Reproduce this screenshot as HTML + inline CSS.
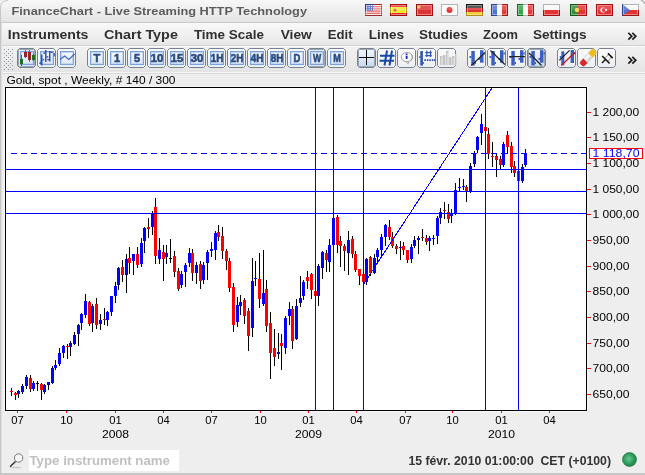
<!DOCTYPE html>
<html><head><meta charset="utf-8"><title>FinanceChart</title>
<style>html,body{margin:0;padding:0;width:645px;height:475px;overflow:hidden;background:#eeeeee;} svg{display:block;will-change:transform;}</style>
</head><body><svg width="645" height="475" viewBox="0 0 645 475" font-family='"Liberation Sans", sans-serif'><defs>
<linearGradient id="gTitle" x1="0" y1="0" x2="0" y2="1"><stop offset="0" stop-color="#f7f7f7"/><stop offset="1" stop-color="#e3e3e3"/></linearGradient>
<linearGradient id="gMenu" x1="0" y1="0" x2="0" y2="1"><stop offset="0" stop-color="#f9f9f9"/><stop offset="1" stop-color="#e6e6e6"/></linearGradient>
<linearGradient id="gTool" x1="0" y1="0" x2="0" y2="1"><stop offset="0" stop-color="#f2f2f2"/><stop offset="1" stop-color="#e4e4e4"/></linearGradient>
<linearGradient id="gBtn" x1="0" y1="0" x2="0" y2="1"><stop offset="0" stop-color="#fbfbfc"/><stop offset="1" stop-color="#eceef2"/></linearGradient>
<linearGradient id="gBtnIn" x1="0" y1="0" x2="0" y2="1"><stop offset="0" stop-color="#f8fbff"/><stop offset="1" stop-color="#dbe6f6"/></linearGradient>
<linearGradient id="gBtnP" x1="0" y1="0" x2="0" y2="1"><stop offset="0" stop-color="#eef1f6"/><stop offset="1" stop-color="#dde3ec"/></linearGradient>
<linearGradient id="gBtnX" x1="0" y1="0" x2="0" y2="1"><stop offset="0" stop-color="#f0f5fb"/><stop offset="0.5" stop-color="#dfe9f5"/><stop offset="1" stop-color="#c3d6ee"/></linearGradient>
<radialGradient id="gGreen" cx="0.45" cy="0.45" r="0.6"><stop offset="0" stop-color="#6cc892"/><stop offset="0.6" stop-color="#2c9c5c"/><stop offset="1" stop-color="#1d7a42"/></radialGradient>
</defs>
<rect x="0" y="0" width="645" height="475" fill="#eeeeee"/>
<path d="M0,6 Q0,0 6,0 H639 Q645,0 645,6 V23 H0 Z" fill="url(#gTitle)"/>
<rect x="0" y="22" width="645" height="1" fill="#c9c9c9"/>
<text x="11.5" y="15" font-size="11.5" font-weight="bold" fill="#5c5c5c" text-anchor="start" textLength="295.5" lengthAdjust="spacingAndGlyphs" >FinanceChart - Live Streaming HTTP Technology</text>
<rect x="365" y="4" width="17" height="12" fill="#ffffff"/><rect x="365" y="4.00" width="17" height="0.92" fill="#d82828"/><rect x="365" y="5.85" width="17" height="0.92" fill="#d82828"/><rect x="365" y="7.69" width="17" height="0.92" fill="#d82828"/><rect x="365" y="9.54" width="17" height="0.92" fill="#d82828"/><rect x="365" y="11.38" width="17" height="0.92" fill="#d82828"/><rect x="365" y="13.23" width="17" height="0.92" fill="#d82828"/><rect x="365" y="15.08" width="17" height="0.92" fill="#d82828"/><rect x="365" y="4" width="8" height="6.5" fill="#3a4cb8"/><rect x="366.2" y="5.0" width="1" height="1" fill="#fff"/><rect x="368.6" y="5.0" width="1" height="1" fill="#fff"/><rect x="371.0" y="5.0" width="1" height="1" fill="#fff"/><rect x="366.2" y="6.9" width="1" height="1" fill="#fff"/><rect x="368.6" y="6.9" width="1" height="1" fill="#fff"/><rect x="371.0" y="6.9" width="1" height="1" fill="#fff"/><rect x="366.2" y="8.8" width="1" height="1" fill="#fff"/><rect x="368.6" y="8.8" width="1" height="1" fill="#fff"/><rect x="371.0" y="8.8" width="1" height="1" fill="#fff"/><rect x="365.5" y="4.5" width="16" height="11" fill="none" stroke="rgba(0,0,0,0.28)" stroke-width="1"/><rect x="366" y="5" width="15" height="10" fill="rgba(255,255,255,0.12)"/><rect x="366.5" y="5.5" width="14" height="9" fill="none" stroke="rgba(255,255,255,0.4)" stroke-width="1"/><rect x="367" y="6" width="13" height="4.0" fill="rgba(255,255,255,0.15)"/>
<rect x="390" y="4" width="17" height="12" fill="#e41010"/><rect x="390" y="7" width="17" height="6" fill="#f6e41a"/><circle cx="395" cy="10" r="1.6" fill="#d05050"/><rect x="390.5" y="4.5" width="16" height="11" fill="none" stroke="rgba(0,0,0,0.28)" stroke-width="1"/><rect x="391" y="5" width="15" height="10" fill="rgba(255,255,255,0.12)"/><rect x="391.5" y="5.5" width="14" height="9" fill="none" stroke="rgba(255,255,255,0.4)" stroke-width="1"/><rect x="392" y="6" width="13" height="4.0" fill="rgba(255,255,255,0.15)"/>
<rect x="416" y="4" width="17" height="12" fill="#d81a1a"/><circle cx="419" cy="7" r="1.5" fill="#f4d030"/><rect x="416.5" y="4.5" width="16" height="11" fill="none" stroke="rgba(0,0,0,0.28)" stroke-width="1"/><rect x="417" y="5" width="15" height="10" fill="rgba(255,255,255,0.12)"/><rect x="417.5" y="5.5" width="14" height="9" fill="none" stroke="rgba(255,255,255,0.4)" stroke-width="1"/><rect x="418" y="6" width="13" height="4.0" fill="rgba(255,255,255,0.15)"/>
<rect x="441" y="4" width="17" height="12" fill="#fafafa"/><circle cx="449.5" cy="10" r="3" fill="#e01818"/><rect x="441.5" y="4.5" width="16" height="11" fill="none" stroke="rgba(0,0,0,0.28)" stroke-width="1"/><rect x="442" y="5" width="15" height="10" fill="rgba(255,255,255,0.12)"/><rect x="442.5" y="5.5" width="14" height="9" fill="none" stroke="rgba(255,255,255,0.4)" stroke-width="1"/><rect x="443" y="6" width="13" height="4.0" fill="rgba(255,255,255,0.15)"/>
<rect x="466" y="4" width="17" height="4" fill="#202020"/><rect x="466" y="8" width="17" height="4" fill="#d81818"/><rect x="466" y="12" width="17" height="4" fill="#f0c818"/><rect x="466.5" y="4.5" width="16" height="11" fill="none" stroke="rgba(0,0,0,0.28)" stroke-width="1"/><rect x="467" y="5" width="15" height="10" fill="rgba(255,255,255,0.12)"/><rect x="467.5" y="5.5" width="14" height="9" fill="none" stroke="rgba(255,255,255,0.4)" stroke-width="1"/><rect x="468" y="6" width="13" height="4.0" fill="rgba(255,255,255,0.15)"/>
<rect x="491" y="4" width="6" height="12" fill="#4060c8"/><rect x="497" y="4" width="5" height="12" fill="#f8f8f8"/><rect x="502" y="4" width="6" height="12" fill="#e02020"/><rect x="491.5" y="4.5" width="16" height="11" fill="none" stroke="rgba(0,0,0,0.28)" stroke-width="1"/><rect x="492" y="5" width="15" height="10" fill="rgba(255,255,255,0.12)"/><rect x="492.5" y="5.5" width="14" height="9" fill="none" stroke="rgba(255,255,255,0.4)" stroke-width="1"/><rect x="493" y="6" width="13" height="4.0" fill="rgba(255,255,255,0.15)"/>
<rect x="517" y="4" width="6" height="12" fill="#1a9a30"/><rect x="523" y="4" width="5" height="12" fill="#f8f8f8"/><rect x="528" y="4" width="6" height="12" fill="#e02020"/><rect x="517.5" y="4.5" width="16" height="11" fill="none" stroke="rgba(0,0,0,0.28)" stroke-width="1"/><rect x="518" y="5" width="15" height="10" fill="rgba(255,255,255,0.12)"/><rect x="518.5" y="5.5" width="14" height="9" fill="none" stroke="rgba(255,255,255,0.4)" stroke-width="1"/><rect x="519" y="6" width="13" height="4.0" fill="rgba(255,255,255,0.15)"/>
<rect x="543" y="4" width="17" height="6" fill="#f8f8f8"/><rect x="543" y="10" width="17" height="6" fill="#e01818"/><rect x="543.5" y="4.5" width="16" height="11" fill="none" stroke="rgba(0,0,0,0.28)" stroke-width="1"/><rect x="544" y="5" width="15" height="10" fill="rgba(255,255,255,0.12)"/><rect x="544.5" y="5.5" width="14" height="9" fill="none" stroke="rgba(255,255,255,0.4)" stroke-width="1"/><rect x="545" y="6" width="13" height="4.0" fill="rgba(255,255,255,0.15)"/>
<rect x="570" y="4" width="7" height="12" fill="#1a7a20"/><rect x="577" y="4" width="10" height="12" fill="#e01818"/><circle cx="577" cy="10" r="2.2" fill="#f0d040"/><rect x="570.5" y="4.5" width="16" height="11" fill="none" stroke="rgba(0,0,0,0.28)" stroke-width="1"/><rect x="571" y="5" width="15" height="10" fill="rgba(255,255,255,0.12)"/><rect x="571.5" y="5.5" width="14" height="9" fill="none" stroke="rgba(255,255,255,0.4)" stroke-width="1"/><rect x="572" y="6" width="13" height="4.0" fill="rgba(255,255,255,0.15)"/>
<rect x="596" y="4" width="17" height="12" fill="#e01818"/><circle cx="603" cy="10" r="2.6" fill="#fff"/><circle cx="603.8" cy="10" r="2.1" fill="#e01818"/><rect x="605" y="9" width="2" height="2" fill="#fff"/><rect x="596.5" y="4.5" width="16" height="11" fill="none" stroke="rgba(0,0,0,0.28)" stroke-width="1"/><rect x="597" y="5" width="15" height="10" fill="rgba(255,255,255,0.12)"/><rect x="597.5" y="5.5" width="14" height="9" fill="none" stroke="rgba(255,255,255,0.4)" stroke-width="1"/><rect x="598" y="6" width="13" height="4.0" fill="rgba(255,255,255,0.15)"/>
<rect x="622" y="4" width="17" height="6" fill="#f8f8f8"/><rect x="622" y="10" width="17" height="6" fill="#e01818"/><path d="M622,4 L630,10 L622,16 Z" fill="#3a5ec8"/><rect x="622.5" y="4.5" width="16" height="11" fill="none" stroke="rgba(0,0,0,0.28)" stroke-width="1"/><rect x="623" y="5" width="15" height="10" fill="rgba(255,255,255,0.12)"/><rect x="623.5" y="5.5" width="14" height="9" fill="none" stroke="rgba(255,255,255,0.4)" stroke-width="1"/><rect x="624" y="6" width="13" height="4.0" fill="rgba(255,255,255,0.15)"/>
<rect x="0" y="23" width="645" height="23" fill="url(#gMenu)"/>
<rect x="0" y="45" width="645" height="1" fill="#d2d2d2"/>
<text x="7.75" y="38.7" font-size="12.5" font-weight="bold" fill="#303030" text-anchor="start" textLength="80.7" lengthAdjust="spacingAndGlyphs" >Instruments</text>
<text x="103.9" y="38.7" font-size="12.5" font-weight="bold" fill="#303030" text-anchor="start" textLength="74.0" lengthAdjust="spacingAndGlyphs" >Chart Type</text>
<text x="193.9" y="38.7" font-size="12.5" font-weight="bold" fill="#303030" text-anchor="start" textLength="70.0" lengthAdjust="spacingAndGlyphs" >Time Scale</text>
<text x="280.7" y="38.7" font-size="12.5" font-weight="bold" fill="#303030" text-anchor="start" textLength="31.1" lengthAdjust="spacingAndGlyphs" >View</text>
<text x="327.8" y="38.7" font-size="12.5" font-weight="bold" fill="#303030" text-anchor="start" textLength="24.8" lengthAdjust="spacingAndGlyphs" >Edit</text>
<text x="368.7" y="38.7" font-size="12.5" font-weight="bold" fill="#303030" text-anchor="start" textLength="35.2" lengthAdjust="spacingAndGlyphs" >Lines</text>
<text x="419" y="38.7" font-size="12.5" font-weight="bold" fill="#303030" text-anchor="start" textLength="48.8" lengthAdjust="spacingAndGlyphs" >Studies</text>
<text x="483" y="38.7" font-size="12.5" font-weight="bold" fill="#303030" text-anchor="start" textLength="35" lengthAdjust="spacingAndGlyphs" >Zoom</text>
<text x="533" y="38.7" font-size="12.5" font-weight="bold" fill="#303030" text-anchor="start" textLength="53.5" lengthAdjust="spacingAndGlyphs" >Settings</text>
<path d="M628.3,32.8 L631.8,36.2 L628.3,39.6 M632.3,32.8 L635.8,36.2 L632.3,39.6" stroke="#1e1e1e" stroke-width="1.7" fill="none"/>
<rect x="0" y="46" width="645" height="26" fill="url(#gTool)"/>
<rect x="0" y="46" width="645" height="1" fill="#f8f8f8"/>
<rect x="0" y="72" width="645" height="1" fill="#f6f6f6"/>
<rect x="0" y="73" width="645" height="1" fill="#d8d8d8"/>
<rect x="4" y="49" width="1" height="1" fill="#8a96a2"/>
<rect x="8" y="49" width="1" height="1" fill="#8a96a2"/>
<rect x="12" y="49" width="1" height="1" fill="#8a96a2"/>
<rect x="6" y="51" width="1" height="1" fill="#8a96a2"/>
<rect x="10" y="51" width="1" height="1" fill="#8a96a2"/>
<rect x="4" y="53" width="1" height="1" fill="#8a96a2"/>
<rect x="8" y="53" width="1" height="1" fill="#8a96a2"/>
<rect x="12" y="53" width="1" height="1" fill="#8a96a2"/>
<rect x="6" y="55" width="1" height="1" fill="#8a96a2"/>
<rect x="10" y="55" width="1" height="1" fill="#8a96a2"/>
<rect x="4" y="57" width="1" height="1" fill="#8a96a2"/>
<rect x="8" y="57" width="1" height="1" fill="#8a96a2"/>
<rect x="12" y="57" width="1" height="1" fill="#8a96a2"/>
<rect x="6" y="59" width="1" height="1" fill="#8a96a2"/>
<rect x="10" y="59" width="1" height="1" fill="#8a96a2"/>
<rect x="4" y="61" width="1" height="1" fill="#8a96a2"/>
<rect x="8" y="61" width="1" height="1" fill="#8a96a2"/>
<rect x="12" y="61" width="1" height="1" fill="#8a96a2"/>
<rect x="6" y="63" width="1" height="1" fill="#8a96a2"/>
<rect x="10" y="63" width="1" height="1" fill="#8a96a2"/>
<rect x="4" y="65" width="1" height="1" fill="#8a96a2"/>
<rect x="8" y="65" width="1" height="1" fill="#8a96a2"/>
<rect x="12" y="65" width="1" height="1" fill="#8a96a2"/>
<rect x="6" y="67" width="1" height="1" fill="#8a96a2"/>
<rect x="10" y="67" width="1" height="1" fill="#8a96a2"/>
<rect x="4" y="69" width="1" height="1" fill="#8a96a2"/>
<rect x="8" y="69" width="1" height="1" fill="#8a96a2"/>
<rect x="12" y="69" width="1" height="1" fill="#8a96a2"/>
<path d="M19.5,48.5 H33.5 L35.5,50.5 V65.5 L33.5,67.5 H19.5 L17.5,65.5 V50.5 Z" fill="url(#gBtnP)" stroke="#75818e" stroke-width="1"/>
<path d="M18.5,65.5 V50.5 L19.5,49.5 H33.5 L34.5,50.5 V65.5 L33.5,66.5 H19.5 Z" fill="none" stroke="#9ba6b2" stroke-width="1"/>
<rect x="20.5" y="51.5" width="13" height="13" fill="url(#gBtnIn)" stroke="#78a2e2" stroke-width="1"/>
<rect x="21.5" y="52.5" width="11" height="11" fill="none" stroke="#c4d8f4" stroke-width="1"/>
<path d="M39.5,48.5 H53.5 L55.5,50.5 V65.5 L53.5,67.5 H39.5 L37.5,65.5 V50.5 Z" fill="url(#gBtn)" stroke="#75818e" stroke-width="1"/>
<rect x="40.5" y="51.5" width="13" height="13" fill="url(#gBtnIn)" stroke="#78a2e2" stroke-width="1"/>
<rect x="41.5" y="52.5" width="11" height="11" fill="none" stroke="#c4d8f4" stroke-width="1"/>
<path d="M59.5,48.5 H73.5 L75.5,50.5 V65.5 L73.5,67.5 H59.5 L57.5,65.5 V50.5 Z" fill="url(#gBtn)" stroke="#75818e" stroke-width="1"/>
<rect x="60.5" y="51.5" width="13" height="13" fill="url(#gBtnIn)" stroke="#78a2e2" stroke-width="1"/>
<rect x="61.5" y="52.5" width="11" height="11" fill="none" stroke="#c4d8f4" stroke-width="1"/>
<g shape-rendering="crispEdges"><rect x="21" y="55" width="1" height="11" fill="#3a5ec2"/><rect x="20" y="59" width="3" height="5" fill="#1d6e1d"/><rect x="25" y="50" width="1" height="8" fill="#5a6a8a"/><rect x="24" y="52" width="3" height="5" fill="#962424"/><rect x="29" y="50" width="1" height="12" fill="#5a6a8a"/><rect x="28" y="52" width="3" height="8" fill="#962424"/><rect x="33" y="54" width="1" height="7" fill="#5a6a8a"/><rect x="32" y="55" width="3" height="5" fill="#1d6e1d"/></g>
<g fill="#2f55b4"><rect x="41" y="54.5" width="1.5" height="11"/><rect x="39.3" y="62.5" width="1.8" height="1.4"/><rect x="42.5" y="59" width="1.6" height="1.4"/><rect x="45" y="50" width="1.5" height="12"/><rect x="43.4" y="52.5" width="1.6" height="1.4"/><rect x="46.5" y="56.2" width="1.8" height="1.4"/><rect x="49" y="51" width="1.5" height="10.5"/><rect x="47.4" y="59" width="1.6" height="1.4"/><rect x="50.5" y="51.6" width="2" height="1.4"/><rect x="53.6" y="53" width="1.2" height="3.4"/></g>
<path d="M60,59.5 L64.6,56 L68.9,59.5 L74.6,54" stroke="#3a64c0" stroke-width="1.1" fill="none"/>
<path d="M89.5,48.5 H103.5 L105.5,50.5 V65.5 L103.5,67.5 H89.5 L87.5,65.5 V50.5 Z" fill="url(#gBtn)" stroke="#75818e" stroke-width="1"/>
<rect x="90.5" y="51.5" width="13" height="13" fill="url(#gBtnIn)" stroke="#78a2e2" stroke-width="1"/>
<rect x="91.5" y="52.5" width="11" height="11" fill="none" stroke="#c4d8f4" stroke-width="1"/>
<text x="97.0" y="62" font-size="11" font-weight="bold" fill="#2b4a7e" text-anchor="middle" textLength="6.8" lengthAdjust="spacingAndGlyphs" stroke="#2b4a7e" stroke-width="0.6">T</text>
<path d="M109.5,48.5 H123.5 L125.5,50.5 V65.5 L123.5,67.5 H109.5 L107.5,65.5 V50.5 Z" fill="url(#gBtn)" stroke="#75818e" stroke-width="1"/>
<rect x="110.5" y="51.5" width="13" height="13" fill="url(#gBtnIn)" stroke="#78a2e2" stroke-width="1"/>
<rect x="111.5" y="52.5" width="11" height="11" fill="none" stroke="#c4d8f4" stroke-width="1"/>
<text x="117.0" y="62" font-size="11" font-weight="bold" fill="#2b4a7e" text-anchor="middle" stroke="#2b4a7e" stroke-width="0.6">1</text>
<path d="M129.5,48.5 H143.5 L145.5,50.5 V65.5 L143.5,67.5 H129.5 L127.5,65.5 V50.5 Z" fill="url(#gBtn)" stroke="#75818e" stroke-width="1"/>
<rect x="130.5" y="51.5" width="13" height="13" fill="url(#gBtnIn)" stroke="#78a2e2" stroke-width="1"/>
<rect x="131.5" y="52.5" width="11" height="11" fill="none" stroke="#c4d8f4" stroke-width="1"/>
<text x="137.0" y="62" font-size="11" font-weight="bold" fill="#2b4a7e" text-anchor="middle" stroke="#2b4a7e" stroke-width="0.6">5</text>
<path d="M149.5,48.5 H163.5 L165.5,50.5 V65.5 L163.5,67.5 H149.5 L147.5,65.5 V50.5 Z" fill="url(#gBtn)" stroke="#75818e" stroke-width="1"/>
<rect x="150.5" y="51.5" width="13" height="13" fill="url(#gBtnIn)" stroke="#78a2e2" stroke-width="1"/>
<rect x="151.5" y="52.5" width="11" height="11" fill="none" stroke="#c4d8f4" stroke-width="1"/>
<text x="157.0" y="62" font-size="10.5" font-weight="bold" fill="#2b4a7e" text-anchor="middle" textLength="12.5" lengthAdjust="spacingAndGlyphs" stroke="#2b4a7e" stroke-width="0.6">10</text>
<path d="M169.5,48.5 H183.5 L185.5,50.5 V65.5 L183.5,67.5 H169.5 L167.5,65.5 V50.5 Z" fill="url(#gBtn)" stroke="#75818e" stroke-width="1"/>
<rect x="170.5" y="51.5" width="13" height="13" fill="url(#gBtnIn)" stroke="#78a2e2" stroke-width="1"/>
<rect x="171.5" y="52.5" width="11" height="11" fill="none" stroke="#c4d8f4" stroke-width="1"/>
<text x="177.0" y="62" font-size="10.5" font-weight="bold" fill="#2b4a7e" text-anchor="middle" textLength="12.5" lengthAdjust="spacingAndGlyphs" stroke="#2b4a7e" stroke-width="0.6">15</text>
<path d="M189.5,48.5 H203.5 L205.5,50.5 V65.5 L203.5,67.5 H189.5 L187.5,65.5 V50.5 Z" fill="url(#gBtn)" stroke="#75818e" stroke-width="1"/>
<rect x="190.5" y="51.5" width="13" height="13" fill="url(#gBtnIn)" stroke="#78a2e2" stroke-width="1"/>
<rect x="191.5" y="52.5" width="11" height="11" fill="none" stroke="#c4d8f4" stroke-width="1"/>
<text x="197.0" y="62" font-size="10.5" font-weight="bold" fill="#2b4a7e" text-anchor="middle" textLength="12.5" lengthAdjust="spacingAndGlyphs" stroke="#2b4a7e" stroke-width="0.6">30</text>
<path d="M209.5,48.5 H223.5 L225.5,50.5 V65.5 L223.5,67.5 H209.5 L207.5,65.5 V50.5 Z" fill="url(#gBtn)" stroke="#75818e" stroke-width="1"/>
<rect x="210.5" y="51.5" width="13" height="13" fill="url(#gBtnIn)" stroke="#78a2e2" stroke-width="1"/>
<rect x="211.5" y="52.5" width="11" height="11" fill="none" stroke="#c4d8f4" stroke-width="1"/>
<text x="217.0" y="62" font-size="10.5" font-weight="bold" fill="#2b4a7e" text-anchor="middle" textLength="12.5" lengthAdjust="spacingAndGlyphs" stroke="#2b4a7e" stroke-width="0.6">1H</text>
<path d="M229.5,48.5 H243.5 L245.5,50.5 V65.5 L243.5,67.5 H229.5 L227.5,65.5 V50.5 Z" fill="url(#gBtn)" stroke="#75818e" stroke-width="1"/>
<rect x="230.5" y="51.5" width="13" height="13" fill="url(#gBtnIn)" stroke="#78a2e2" stroke-width="1"/>
<rect x="231.5" y="52.5" width="11" height="11" fill="none" stroke="#c4d8f4" stroke-width="1"/>
<text x="237.0" y="62" font-size="10.5" font-weight="bold" fill="#2b4a7e" text-anchor="middle" textLength="12.5" lengthAdjust="spacingAndGlyphs" stroke="#2b4a7e" stroke-width="0.6">2H</text>
<path d="M249.5,48.5 H263.5 L265.5,50.5 V65.5 L263.5,67.5 H249.5 L247.5,65.5 V50.5 Z" fill="url(#gBtn)" stroke="#75818e" stroke-width="1"/>
<rect x="250.5" y="51.5" width="13" height="13" fill="url(#gBtnIn)" stroke="#78a2e2" stroke-width="1"/>
<rect x="251.5" y="52.5" width="11" height="11" fill="none" stroke="#c4d8f4" stroke-width="1"/>
<text x="257.0" y="62" font-size="10.5" font-weight="bold" fill="#2b4a7e" text-anchor="middle" textLength="12.5" lengthAdjust="spacingAndGlyphs" stroke="#2b4a7e" stroke-width="0.6">4H</text>
<path d="M269.5,48.5 H283.5 L285.5,50.5 V65.5 L283.5,67.5 H269.5 L267.5,65.5 V50.5 Z" fill="url(#gBtn)" stroke="#75818e" stroke-width="1"/>
<rect x="270.5" y="51.5" width="13" height="13" fill="url(#gBtnIn)" stroke="#78a2e2" stroke-width="1"/>
<rect x="271.5" y="52.5" width="11" height="11" fill="none" stroke="#c4d8f4" stroke-width="1"/>
<text x="277.0" y="62" font-size="10.5" font-weight="bold" fill="#2b4a7e" text-anchor="middle" textLength="12.5" lengthAdjust="spacingAndGlyphs" stroke="#2b4a7e" stroke-width="0.6">8H</text>
<path d="M289.5,48.5 H303.5 L305.5,50.5 V65.5 L303.5,67.5 H289.5 L287.5,65.5 V50.5 Z" fill="url(#gBtn)" stroke="#75818e" stroke-width="1"/>
<rect x="290.5" y="51.5" width="13" height="13" fill="url(#gBtnIn)" stroke="#78a2e2" stroke-width="1"/>
<rect x="291.5" y="52.5" width="11" height="11" fill="none" stroke="#c4d8f4" stroke-width="1"/>
<text x="297.0" y="62" font-size="11" font-weight="bold" fill="#2b4a7e" text-anchor="middle" textLength="6.8" lengthAdjust="spacingAndGlyphs" stroke="#2b4a7e" stroke-width="0.6">D</text>
<path d="M309.5,48.5 H323.5 L325.5,50.5 V65.5 L323.5,67.5 H309.5 L307.5,65.5 V50.5 Z" fill="url(#gBtnP)" stroke="#75818e" stroke-width="1"/>
<path d="M308.5,65.5 V50.5 L309.5,49.5 H323.5 L324.5,50.5 V65.5 L323.5,66.5 H309.5 Z" fill="none" stroke="#9ba6b2" stroke-width="1"/>
<rect x="310.5" y="51.5" width="13" height="13" fill="url(#gBtnIn)" stroke="#78a2e2" stroke-width="1"/>
<rect x="311.5" y="52.5" width="11" height="11" fill="none" stroke="#c4d8f4" stroke-width="1"/>
<text x="317.0" y="62" font-size="11" font-weight="bold" fill="#2b4a7e" text-anchor="middle" textLength="8.2" lengthAdjust="spacingAndGlyphs" stroke="#2b4a7e" stroke-width="0.6">W</text>
<path d="M329.5,48.5 H343.5 L345.5,50.5 V65.5 L343.5,67.5 H329.5 L327.5,65.5 V50.5 Z" fill="url(#gBtn)" stroke="#75818e" stroke-width="1"/>
<rect x="330.5" y="51.5" width="13" height="13" fill="url(#gBtnIn)" stroke="#78a2e2" stroke-width="1"/>
<rect x="331.5" y="52.5" width="11" height="11" fill="none" stroke="#c4d8f4" stroke-width="1"/>
<text x="337.0" y="62" font-size="11" font-weight="bold" fill="#2b4a7e" text-anchor="middle" textLength="7.6" lengthAdjust="spacingAndGlyphs" stroke="#2b4a7e" stroke-width="0.6">M</text>
<path d="M359.5,48.5 H373.5 L375.5,50.5 V65.5 L373.5,67.5 H359.5 L357.5,65.5 V50.5 Z" fill="url(#gBtnX)" stroke="#75818e" stroke-width="1"/>
<path d="M358.5,65.5 V50.5 L359.5,49.5 H373.5 L374.5,50.5 V65.5 L373.5,66.5 H359.5 Z" fill="none" stroke="#9ba6b2" stroke-width="1"/>
<path d="M379.5,48.5 H393.5 L395.5,50.5 V65.5 L393.5,67.5 H379.5 L377.5,65.5 V50.5 Z" fill="url(#gBtn)" stroke="#75818e" stroke-width="1"/>
<path d="M399.5,48.5 H413.5 L415.5,50.5 V65.5 L413.5,67.5 H399.5 L397.5,65.5 V50.5 Z" fill="url(#gBtn)" stroke="#75818e" stroke-width="1"/>
<path d="M419.5,48.5 H433.5 L435.5,50.5 V65.5 L433.5,67.5 H419.5 L417.5,65.5 V50.5 Z" fill="url(#gBtn)" stroke="#75818e" stroke-width="1"/>
<path d="M439.5,48.5 H453.5 L455.5,50.5 V65.5 L453.5,67.5 H439.5 L437.5,65.5 V50.5 Z" fill="url(#gBtn)" stroke="#75818e" stroke-width="1"/>
<g shape-rendering="crispEdges"><rect x="366" y="50" width="1" height="15" fill="#101010"/><rect x="359" y="57" width="15" height="1" fill="#101010"/></g>
<path d="M380,55.8 H394.5 M379.5,60.8 H394 M387,50.5 L384.5,65.5 M392,50.5 L389.5,65.5" stroke="#1a48aa" stroke-width="2" fill="none"/>
<path d="M405.5,61.2 L408.2,63.8 L408.6,61.4" fill="#fcfcfc" stroke="#9a9a9a" stroke-width="0.9"/>
<ellipse cx="406.9" cy="57.1" rx="5.6" ry="4.6" fill="#fcfcfc" stroke="#a4a4a4" stroke-width="1"/>
<path d="M411.8,55 Q413.5,58.5 410.5,61" fill="none" stroke="#8a8a8a" stroke-width="0.8"/>
<rect x="405.7" y="53.5" width="1.8" height="1.6" fill="#1a22ee"/><rect x="405.7" y="55.8" width="1.9" height="3.1" fill="#1a22ee"/>
<rect x="420.3" y="51" width="2.6" height="14.6" fill="#2f55b4"/><rect x="419" y="56.3" width="1.4" height="1.6" fill="#2f55b4"/><rect x="422.8" y="62.2" width="1.2" height="1.6" fill="#2f55b4"/>
<g fill="#2f55b4"><rect x="424.3" y="59.2" width="1.6" height="1.8"/><rect x="426.8" y="59.2" width="1.6" height="1.8"/><rect x="429.3" y="59.2" width="1.6" height="1.8"/><rect x="431.8" y="59.2" width="1.6" height="1.8"/><rect x="434" y="59.2" width="1.4" height="1.8"/></g>
<path d="M425.3,52.6 H431.8 M425.3,55.6 H431.8 M426.8,50.4 V57 M430.5,50.4 V57" stroke="#2f55b4" stroke-width="1.2" fill="none"/>
<g fill="#c4c4c4"><rect x="440" y="56" width="2.4" height="9"/><rect x="443" y="55" width="2.4" height="10"/><rect x="446" y="51" width="2.4" height="14"/><rect x="449" y="57" width="2.4" height="8"/><rect x="452" y="56" width="2.4" height="9"/><rect x="455" y="54" width="1.4" height="11"/></g>
<g fill="#dadada"><rect x="441" y="58" width="1" height="7"/><rect x="447" y="53" width="1" height="12"/><rect x="453" y="58" width="1" height="7"/></g>
<path d="M469.5,48.5 H483.5 L485.5,50.5 V65.5 L483.5,67.5 H469.5 L467.5,65.5 V50.5 Z" fill="url(#gBtn)" stroke="#75818e" stroke-width="1"/>
<path d="M489.5,48.5 H503.5 L505.5,50.5 V65.5 L503.5,67.5 H489.5 L487.5,65.5 V50.5 Z" fill="url(#gBtn)" stroke="#75818e" stroke-width="1"/>
<path d="M509.5,48.5 H523.5 L525.5,50.5 V65.5 L523.5,67.5 H509.5 L507.5,65.5 V50.5 Z" fill="url(#gBtn)" stroke="#75818e" stroke-width="1"/>
<path d="M529.5,48.5 H543.5 L545.5,50.5 V65.5 L543.5,67.5 H529.5 L527.5,65.5 V50.5 Z" fill="url(#gBtnX)" stroke="#75818e" stroke-width="1"/>
<path d="M528.5,65.5 V50.5 L529.5,49.5 H543.5 L544.5,50.5 V65.5 L543.5,66.5 H529.5 Z" fill="none" stroke="#9ba6b2" stroke-width="1"/>
<g fill="#3a5ec2"><rect x="471.3" y="51" width="3.5" height="14.5"/><rect x="469.5" y="56" width="1.8" height="2"/><rect x="474.8" y="62" width="1.2" height="2"/><rect x="480.0" y="50.2" width="3.5" height="12.5"/><rect x="483.5" y="52.5" width="1.4" height="2"/><rect x="478.5" y="58" width="1.5" height="2"/></g>
<g fill="#3a5ec2"><rect x="491.3" y="51" width="3.5" height="14.5"/><rect x="489.5" y="56" width="1.8" height="2"/><rect x="494.8" y="62" width="1.2" height="2"/><rect x="500.0" y="50.2" width="3.5" height="12.5"/><rect x="503.5" y="52.5" width="1.4" height="2"/><rect x="498.5" y="58" width="1.5" height="2"/></g>
<g fill="#3a5ec2"><rect x="511.3" y="51" width="3.5" height="14.5"/><rect x="509.5" y="56" width="1.8" height="2"/><rect x="514.8" y="62" width="1.2" height="2"/><rect x="520.0" y="50.2" width="3.5" height="12.5"/><rect x="523.5" y="52.5" width="1.4" height="2"/><rect x="518.5" y="58" width="1.5" height="2"/></g>
<g fill="#3a5ec2"><rect x="531.3" y="51" width="3.5" height="14.5"/><rect x="529.5" y="56" width="1.8" height="2"/><rect x="534.8" y="62" width="1.2" height="2"/><rect x="540.0" y="50.2" width="3.5" height="12.5"/><rect x="543.5" y="52.5" width="1.4" height="2"/><rect x="538.5" y="58" width="1.5" height="2"/></g>
<path d="M471.3,65.5 L484.9,52.6" stroke="#222" stroke-width="1.2"/>
<path d="M490.5,50.5 L504.8,64.5" stroke="#222" stroke-width="1.2"/>
<path d="M509.2,56.6 H524.9" stroke="#222" stroke-width="1.2"/>
<path d="M529,53 L541.6,65.5" stroke="#222" stroke-width="1.2"/>
<path d="M559.5,48.5 H573.5 L575.5,50.5 V65.5 L573.5,67.5 H559.5 L557.5,65.5 V50.5 Z" fill="url(#gBtn)" stroke="#75818e" stroke-width="1"/>
<g fill="#3a5ec2"><rect x="561.3" y="51.3" width="3" height="14"/><rect x="559.8" y="56" width="1.5" height="2"/><rect x="570.6" y="50" width="3.4" height="13"/><rect x="574" y="52.5" width="1.2" height="2"/></g>
<path d="M559.4,60.2 L569.6,50.4" stroke="#222" stroke-width="1.2"/><path d="M561.3,65.5 L575,52.3" stroke="#d01818" stroke-width="1.3"/>
<path d="M579.5,48.5 H593.5 L595.5,50.5 V65.5 L593.5,67.5 H579.5 L577.5,65.5 V50.5 Z" fill="url(#gBtn)" stroke="#75818e" stroke-width="1"/>
<path d="M599.5,48.5 H613.5 L615.5,50.5 V65.5 L613.5,67.5 H599.5 L597.5,65.5 V50.5 Z" fill="url(#gBtn)" stroke="#75818e" stroke-width="1"/>
<g transform="translate(588.2,57.7) rotate(-47)"><rect x="-10" y="-3" width="20" height="6" rx="2" fill="#f4f4f4" stroke="#c4c4c4" stroke-width="0.6"/><path d="M3.2,-3 H8 Q10,-3 10,-1 V1 Q10,3 8,3 H3.2 Z" fill="#f0bd18"/><path d="M-4,-3 H-8 Q-10,-3 -10,-1 V1 Q-10,3 -8,3 H-4 Z" fill="#dc2828"/><rect x="-4" y="0.6" width="7.2" height="2.4" fill="#d6d6d6"/></g>
<path d="M604.5,58.2 L607.8,61.6 L611.5,56.9 L609,54.4 Z" fill="#f2f2f2" stroke="#8a8a8a" stroke-width="0.8"/>
<path d="M602.2,56 L609.6,63.6 M607.9,53.3 L612.7,58.1" stroke="#111" stroke-width="1.5" fill="none"/>
<path d="M605.4,59.5 L602,62.9" stroke="#111" stroke-width="1.4" fill="none"/>
<path d="M628.3,56.8 L631.8,60.2 L628.3,63.6 M632.3,56.8 L635.8,60.2 L632.3,63.6" stroke="#1e1e1e" stroke-width="1.7" fill="none"/>
<rect x="0" y="74" width="645" height="397" fill="#eeeeee"/>
<text x="6.5" y="84.3" font-size="10.6" font-weight="normal" fill="#000" text-anchor="start" textLength="169" lengthAdjust="spacingAndGlyphs" >Gold, spot , Weekly, # 140 / 300</text>
<rect x="4" y="86" width="584" height="326" fill="#f8f8f8"/>
<rect x="5" y="87" width="582" height="324" fill="#000"/>
<rect x="6" y="88" width="580" height="322" fill="#fff"/>
<g shape-rendering="crispEdges"><rect x="11" y="388" width="1" height="8" fill="#000"/><rect x="10" y="391" width="3" height="1" fill="#ff0000"/><rect x="15" y="392" width="1" height="8" fill="#000"/><rect x="14" y="393" width="3" height="2" fill="#ff0000"/><rect x="18" y="390" width="1" height="8" fill="#000"/><rect x="17" y="391" width="3" height="3" fill="#0000ff"/><rect x="22" y="384" width="1" height="10" fill="#000"/><rect x="21" y="386" width="3" height="6" fill="#0000ff"/><rect x="26" y="375" width="1" height="14" fill="#000"/><rect x="25" y="377" width="3" height="9" fill="#0000ff"/><rect x="30" y="375" width="1" height="17" fill="#000"/><rect x="29" y="378" width="3" height="11" fill="#ff0000"/><rect x="33" y="381" width="1" height="10" fill="#000"/><rect x="32" y="383" width="3" height="6" fill="#0000ff"/><rect x="37" y="381" width="1" height="10" fill="#000"/><rect x="36" y="383" width="3" height="1" fill="#000000"/><rect x="41" y="383" width="1" height="17" fill="#000"/><rect x="40" y="384" width="3" height="6" fill="#ff0000"/><rect x="44" y="384" width="1" height="10" fill="#000"/><rect x="43" y="385" width="3" height="7" fill="#0000ff"/><rect x="48" y="382" width="1" height="8" fill="#000"/><rect x="47" y="382" width="3" height="3" fill="#0000ff"/><rect x="52" y="366" width="1" height="18" fill="#000"/><rect x="51" y="368" width="3" height="15" fill="#0000ff"/><rect x="55" y="360" width="1" height="10" fill="#000"/><rect x="54" y="365" width="3" height="3" fill="#0000ff"/><rect x="59" y="348" width="1" height="18" fill="#000"/><rect x="58" y="353" width="3" height="11" fill="#0000ff"/><rect x="63" y="345" width="1" height="13" fill="#000"/><rect x="62" y="346" width="3" height="7" fill="#0000ff"/><rect x="67" y="344" width="1" height="15" fill="#000"/><rect x="66" y="346" width="3" height="1" fill="#ff0000"/><rect x="70" y="341" width="1" height="15" fill="#000"/><rect x="69" y="343" width="3" height="4" fill="#0000ff"/><rect x="74" y="332" width="1" height="13" fill="#000"/><rect x="73" y="335" width="3" height="9" fill="#0000ff"/><rect x="78" y="324" width="1" height="22" fill="#000"/><rect x="77" y="325" width="3" height="9" fill="#0000ff"/><rect x="81" y="313" width="1" height="17" fill="#000"/><rect x="80" y="314" width="3" height="9" fill="#0000ff"/><rect x="85" y="294" width="1" height="24" fill="#000"/><rect x="84" y="301" width="3" height="14" fill="#0000ff"/><rect x="89" y="301" width="1" height="25" fill="#000"/><rect x="88" y="302" width="3" height="22" fill="#ff0000"/><rect x="92" y="304" width="1" height="28" fill="#000"/><rect x="91" y="306" width="3" height="17" fill="#0000ff"/><rect x="96" y="298" width="1" height="31" fill="#000"/><rect x="95" y="304" width="3" height="21" fill="#ff0000"/><rect x="100" y="314" width="1" height="16" fill="#000"/><rect x="99" y="320" width="3" height="4" fill="#0000ff"/><rect x="104" y="308" width="1" height="17" fill="#000"/><rect x="103" y="319" width="3" height="1" fill="#ff0000"/><rect x="107" y="311" width="1" height="15" fill="#000"/><rect x="106" y="312" width="3" height="8" fill="#0000ff"/><rect x="111" y="296" width="1" height="20" fill="#000"/><rect x="110" y="296" width="3" height="16" fill="#0000ff"/><rect x="115" y="282" width="1" height="21" fill="#000"/><rect x="114" y="286" width="3" height="10" fill="#0000ff"/><rect x="118" y="267" width="1" height="23" fill="#000"/><rect x="117" y="268" width="3" height="17" fill="#0000ff"/><rect x="122" y="260" width="1" height="22" fill="#000"/><rect x="121" y="267" width="3" height="8" fill="#ff0000"/><rect x="126" y="254" width="1" height="39" fill="#000"/><rect x="125" y="259" width="3" height="16" fill="#0000ff"/><rect x="129" y="247" width="1" height="27" fill="#000"/><rect x="128" y="258" width="3" height="5" fill="#ff0000"/><rect x="133" y="254" width="1" height="21" fill="#000"/><rect x="132" y="254" width="3" height="7" fill="#0000ff"/><rect x="137" y="247" width="1" height="21" fill="#000"/><rect x="136" y="254" width="3" height="11" fill="#ff0000"/><rect x="141" y="238" width="1" height="29" fill="#000"/><rect x="140" y="243" width="3" height="21" fill="#0000ff"/><rect x="144" y="227" width="1" height="26" fill="#000"/><rect x="143" y="228" width="3" height="13" fill="#0000ff"/><rect x="148" y="218" width="1" height="20" fill="#000"/><rect x="147" y="227" width="3" height="2" fill="#ff0000"/><rect x="152" y="211" width="1" height="24" fill="#000"/><rect x="151" y="213" width="3" height="14" fill="#0000ff"/><rect x="155" y="198" width="1" height="66" fill="#000"/><rect x="154" y="207" width="3" height="49" fill="#ff0000"/><rect x="159" y="238" width="1" height="26" fill="#000"/><rect x="158" y="250" width="3" height="9" fill="#0000ff"/><rect x="163" y="245" width="1" height="36" fill="#000"/><rect x="162" y="252" width="3" height="7" fill="#ff0000"/><rect x="166" y="245" width="1" height="19" fill="#000"/><rect x="165" y="253" width="3" height="4" fill="#0000ff"/><rect x="170" y="239" width="1" height="24" fill="#000"/><rect x="169" y="258" width="3" height="1" fill="#000000"/><rect x="174" y="251" width="1" height="26" fill="#000"/><rect x="173" y="256" width="3" height="16" fill="#ff0000"/><rect x="178" y="268" width="1" height="23" fill="#000"/><rect x="177" y="271" width="3" height="18" fill="#ff0000"/><rect x="181" y="271" width="1" height="17" fill="#000"/><rect x="180" y="274" width="3" height="11" fill="#0000ff"/><rect x="185" y="263" width="1" height="24" fill="#000"/><rect x="184" y="265" width="3" height="7" fill="#0000ff"/><rect x="189" y="248" width="1" height="19" fill="#000"/><rect x="188" y="253" width="3" height="10" fill="#0000ff"/><rect x="192" y="249" width="1" height="32" fill="#000"/><rect x="191" y="253" width="3" height="20" fill="#ff0000"/><rect x="196" y="262" width="1" height="22" fill="#000"/><rect x="195" y="265" width="3" height="8" fill="#0000ff"/><rect x="200" y="261" width="1" height="28" fill="#000"/><rect x="199" y="264" width="3" height="17" fill="#ff0000"/><rect x="203" y="262" width="1" height="22" fill="#000"/><rect x="202" y="265" width="3" height="15" fill="#0000ff"/><rect x="207" y="250" width="1" height="30" fill="#000"/><rect x="206" y="252" width="3" height="11" fill="#0000ff"/><rect x="211" y="242" width="1" height="15" fill="#000"/><rect x="210" y="249" width="3" height="2" fill="#0000ff"/><rect x="215" y="231" width="1" height="29" fill="#000"/><rect x="214" y="233" width="3" height="17" fill="#0000ff"/><rect x="218" y="225" width="1" height="16" fill="#000"/><rect x="217" y="232" width="3" height="5" fill="#ff0000"/><rect x="222" y="227" width="1" height="32" fill="#000"/><rect x="221" y="236" width="3" height="15" fill="#ff0000"/><rect x="226" y="249" width="1" height="21" fill="#000"/><rect x="225" y="251" width="3" height="10" fill="#ff0000"/><rect x="229" y="258" width="1" height="34" fill="#000"/><rect x="228" y="261" width="3" height="27" fill="#ff0000"/><rect x="233" y="283" width="1" height="49" fill="#000"/><rect x="232" y="287" width="3" height="38" fill="#ff0000"/><rect x="237" y="297" width="1" height="30" fill="#000"/><rect x="236" y="305" width="3" height="17" fill="#0000ff"/><rect x="240" y="295" width="1" height="20" fill="#000"/><rect x="239" y="302" width="3" height="4" fill="#0000ff"/><rect x="244" y="298" width="1" height="26" fill="#000"/><rect x="243" y="300" width="3" height="16" fill="#ff0000"/><rect x="248" y="308" width="1" height="43" fill="#000"/><rect x="247" y="311" width="3" height="25" fill="#ff0000"/><rect x="252" y="258" width="1" height="79" fill="#000"/><rect x="251" y="281" width="3" height="47" fill="#0000ff"/><rect x="255" y="261" width="1" height="25" fill="#000"/><rect x="254" y="278" width="3" height="1" fill="#0000ff"/><rect x="259" y="253" width="1" height="55" fill="#000"/><rect x="258" y="279" width="3" height="20" fill="#ff0000"/><rect x="263" y="250" width="1" height="56" fill="#000"/><rect x="262" y="293" width="3" height="11" fill="#0000ff"/><rect x="266" y="280" width="1" height="52" fill="#000"/><rect x="265" y="289" width="3" height="37" fill="#ff0000"/><rect x="270" y="312" width="1" height="67" fill="#000"/><rect x="269" y="323" width="3" height="30" fill="#ff0000"/><rect x="274" y="329" width="1" height="37" fill="#000"/><rect x="273" y="348" width="3" height="9" fill="#ff0000"/><rect x="278" y="333" width="1" height="26" fill="#000"/><rect x="277" y="352" width="3" height="2" fill="#0000ff"/><rect x="281" y="334" width="1" height="36" fill="#000"/><rect x="280" y="343" width="3" height="3" fill="#ff0000"/><rect x="285" y="316" width="1" height="38" fill="#000"/><rect x="284" y="318" width="3" height="30" fill="#0000ff"/><rect x="289" y="302" width="1" height="23" fill="#000"/><rect x="288" y="309" width="3" height="7" fill="#0000ff"/><rect x="292" y="306" width="1" height="43" fill="#000"/><rect x="291" y="309" width="3" height="32" fill="#ff0000"/><rect x="296" y="299" width="1" height="41" fill="#000"/><rect x="295" y="306" width="3" height="33" fill="#0000ff"/><rect x="300" y="276" width="1" height="31" fill="#000"/><rect x="299" y="298" width="3" height="5" fill="#0000ff"/><rect x="303" y="280" width="1" height="20" fill="#000"/><rect x="302" y="282" width="3" height="14" fill="#0000ff"/><rect x="307" y="271" width="1" height="18" fill="#000"/><rect x="306" y="277" width="3" height="4" fill="#ff0000"/><rect x="311" y="273" width="1" height="26" fill="#000"/><rect x="310" y="274" width="3" height="16" fill="#ff0000"/><rect x="315" y="288" width="1" height="11" fill="#000"/><rect x="314" y="291" width="3" height="5" fill="#ff0000"/><rect x="318" y="264" width="1" height="42" fill="#000"/><rect x="317" y="266" width="3" height="30" fill="#0000ff"/><rect x="322" y="251" width="1" height="28" fill="#000"/><rect x="321" y="252" width="3" height="16" fill="#0000ff"/><rect x="326" y="250" width="1" height="22" fill="#000"/><rect x="325" y="253" width="3" height="7" fill="#ff0000"/><rect x="329" y="239" width="1" height="33" fill="#000"/><rect x="328" y="245" width="3" height="17" fill="#0000ff"/><rect x="333" y="215" width="1" height="35" fill="#000"/><rect x="332" y="218" width="3" height="27" fill="#0000ff"/><rect x="337" y="215" width="1" height="38" fill="#000"/><rect x="336" y="217" width="3" height="28" fill="#ff0000"/><rect x="340" y="236" width="1" height="31" fill="#000"/><rect x="339" y="241" width="3" height="5" fill="#ff0000"/><rect x="344" y="244" width="1" height="27" fill="#000"/><rect x="343" y="246" width="3" height="5" fill="#ff0000"/><rect x="348" y="231" width="1" height="44" fill="#000"/><rect x="347" y="240" width="3" height="13" fill="#0000ff"/><rect x="352" y="236" width="1" height="22" fill="#000"/><rect x="351" y="239" width="3" height="15" fill="#ff0000"/><rect x="355" y="251" width="1" height="21" fill="#000"/><rect x="354" y="254" width="3" height="16" fill="#ff0000"/><rect x="359" y="269" width="1" height="16" fill="#000"/><rect x="358" y="269" width="3" height="7" fill="#ff0000"/><rect x="363" y="272" width="1" height="12" fill="#000"/><rect x="362" y="274" width="3" height="8" fill="#ff0000"/><rect x="366" y="258" width="1" height="27" fill="#000"/><rect x="365" y="259" width="3" height="23" fill="#0000ff"/><rect x="370" y="256" width="1" height="20" fill="#000"/><rect x="369" y="257" width="3" height="16" fill="#ff0000"/><rect x="374" y="254" width="1" height="20" fill="#000"/><rect x="373" y="258" width="3" height="15" fill="#0000ff"/><rect x="377" y="248" width="1" height="14" fill="#000"/><rect x="376" y="250" width="3" height="7" fill="#0000ff"/><rect x="381" y="234" width="1" height="24" fill="#000"/><rect x="380" y="237" width="3" height="13" fill="#0000ff"/><rect x="385" y="224" width="1" height="22" fill="#000"/><rect x="384" y="225" width="3" height="12" fill="#0000ff"/><rect x="389" y="220" width="1" height="20" fill="#000"/><rect x="388" y="227" width="3" height="10" fill="#ff0000"/><rect x="392" y="232" width="1" height="16" fill="#000"/><rect x="391" y="237" width="3" height="9" fill="#ff0000"/><rect x="396" y="244" width="1" height="10" fill="#000"/><rect x="395" y="246" width="3" height="3" fill="#ff0000"/><rect x="400" y="241" width="1" height="19" fill="#000"/><rect x="399" y="247" width="3" height="1" fill="#0000ff"/><rect x="403" y="242" width="1" height="13" fill="#000"/><rect x="402" y="246" width="3" height="4" fill="#ff0000"/><rect x="407" y="250" width="1" height="13" fill="#000"/><rect x="406" y="250" width="3" height="10" fill="#ff0000"/><rect x="411" y="244" width="1" height="19" fill="#000"/><rect x="410" y="247" width="3" height="12" fill="#0000ff"/><rect x="414" y="236" width="1" height="12" fill="#000"/><rect x="413" y="240" width="3" height="6" fill="#0000ff"/><rect x="418" y="236" width="1" height="18" fill="#000"/><rect x="417" y="238" width="3" height="2" fill="#0000ff"/><rect x="422" y="229" width="1" height="12" fill="#000"/><rect x="421" y="237" width="3" height="1" fill="#ff0000"/><rect x="426" y="235" width="1" height="10" fill="#000"/><rect x="425" y="238" width="3" height="4" fill="#ff0000"/><rect x="429" y="236" width="1" height="15" fill="#000"/><rect x="428" y="238" width="3" height="3" fill="#0000ff"/><rect x="433" y="235" width="1" height="10" fill="#000"/><rect x="432" y="238" width="3" height="1" fill="#0000ff"/><rect x="437" y="216" width="1" height="28" fill="#000"/><rect x="436" y="218" width="3" height="18" fill="#0000ff"/><rect x="440" y="208" width="1" height="16" fill="#000"/><rect x="439" y="212" width="3" height="6" fill="#0000ff"/><rect x="444" y="202" width="1" height="17" fill="#000"/><rect x="443" y="210" width="3" height="1" fill="#ff0000"/><rect x="448" y="204" width="1" height="19" fill="#000"/><rect x="447" y="212" width="3" height="7" fill="#ff0000"/><rect x="451" y="209" width="1" height="14" fill="#000"/><rect x="450" y="214" width="3" height="2" fill="#0000ff"/><rect x="455" y="183" width="1" height="32" fill="#000"/><rect x="454" y="190" width="3" height="24" fill="#0000ff"/><rect x="459" y="178" width="1" height="14" fill="#000"/><rect x="458" y="187" width="3" height="1" fill="#0000ff"/><rect x="463" y="179" width="1" height="11" fill="#000"/><rect x="462" y="186" width="3" height="1" fill="#0000ff"/><rect x="466" y="185" width="1" height="17" fill="#000"/><rect x="465" y="187" width="3" height="4" fill="#ff0000"/><rect x="470" y="163" width="1" height="30" fill="#000"/><rect x="469" y="166" width="3" height="26" fill="#0000ff"/><rect x="474" y="151" width="1" height="16" fill="#000"/><rect x="473" y="153" width="3" height="11" fill="#0000ff"/><rect x="477" y="136" width="1" height="17" fill="#000"/><rect x="476" y="137" width="3" height="13" fill="#0000ff"/><rect x="481" y="114" width="1" height="31" fill="#000"/><rect x="480" y="124" width="3" height="9" fill="#0000ff"/><rect x="485" y="122" width="1" height="12" fill="#000"/><rect x="484" y="127" width="3" height="4" fill="#ff0000"/><rect x="488" y="128" width="1" height="31" fill="#000"/><rect x="487" y="134" width="3" height="20" fill="#ff0000"/><rect x="492" y="142" width="1" height="25" fill="#000"/><rect x="491" y="156" width="3" height="1" fill="#ff0000"/><rect x="496" y="153" width="1" height="24" fill="#000"/><rect x="495" y="156" width="3" height="4" fill="#ff0000"/><rect x="500" y="156" width="1" height="14" fill="#000"/><rect x="499" y="159" width="3" height="6" fill="#ff0000"/><rect x="503" y="142" width="1" height="25" fill="#000"/><rect x="502" y="144" width="3" height="21" fill="#0000ff"/><rect x="507" y="131" width="1" height="23" fill="#000"/><rect x="506" y="135" width="3" height="12" fill="#ff0000"/><rect x="511" y="142" width="1" height="31" fill="#000"/><rect x="510" y="146" width="3" height="21" fill="#ff0000"/><rect x="514" y="161" width="1" height="16" fill="#000"/><rect x="513" y="166" width="3" height="7" fill="#ff0000"/><rect x="518" y="168" width="1" height="15" fill="#000"/><rect x="517" y="171" width="3" height="10" fill="#ff0000"/><rect x="522" y="164" width="1" height="19" fill="#000"/><rect x="521" y="167" width="3" height="14" fill="#0000ff"/><rect x="525" y="149" width="1" height="18" fill="#000"/><rect x="524" y="153" width="3" height="12" fill="#0000ff"/></g>
<g shape-rendering="crispEdges" fill="#0000ff">
<rect x="6" y="169" width="581" height="1"/>
<rect x="6" y="191" width="581" height="1"/>
<rect x="6" y="213" width="581" height="1"/>
<rect x="315" y="88" width="1" height="322"/>
<rect x="333" y="88" width="1" height="322"/>
<rect x="363" y="88" width="1" height="322"/>
<rect x="485" y="88" width="1" height="322"/>
<rect x="518" y="88" width="1" height="322"/>
</g>
<g fill="#0000ff" shape-rendering="crispEdges"><rect x="11" y="153" width="6" height="1"/><rect x="21" y="153" width="6" height="1"/><rect x="31" y="153" width="6" height="1"/><rect x="41" y="153" width="6" height="1"/><rect x="51" y="153" width="6" height="1"/><rect x="61" y="153" width="6" height="1"/><rect x="71" y="153" width="6" height="1"/><rect x="81" y="153" width="6" height="1"/><rect x="91" y="153" width="6" height="1"/><rect x="101" y="153" width="6" height="1"/><rect x="111" y="153" width="6" height="1"/><rect x="121" y="153" width="6" height="1"/><rect x="131" y="153" width="6" height="1"/><rect x="141" y="153" width="6" height="1"/><rect x="151" y="153" width="6" height="1"/><rect x="161" y="153" width="6" height="1"/><rect x="171" y="153" width="6" height="1"/><rect x="181" y="153" width="6" height="1"/><rect x="191" y="153" width="6" height="1"/><rect x="201" y="153" width="6" height="1"/><rect x="211" y="153" width="6" height="1"/><rect x="221" y="153" width="6" height="1"/><rect x="231" y="153" width="6" height="1"/><rect x="241" y="153" width="6" height="1"/><rect x="251" y="153" width="6" height="1"/><rect x="261" y="153" width="6" height="1"/><rect x="271" y="153" width="6" height="1"/><rect x="281" y="153" width="6" height="1"/><rect x="291" y="153" width="6" height="1"/><rect x="301" y="153" width="6" height="1"/><rect x="311" y="153" width="6" height="1"/><rect x="321" y="153" width="6" height="1"/><rect x="331" y="153" width="6" height="1"/><rect x="341" y="153" width="6" height="1"/><rect x="351" y="153" width="6" height="1"/><rect x="361" y="153" width="6" height="1"/><rect x="371" y="153" width="6" height="1"/><rect x="381" y="153" width="6" height="1"/><rect x="391" y="153" width="6" height="1"/><rect x="401" y="153" width="6" height="1"/><rect x="411" y="153" width="6" height="1"/><rect x="421" y="153" width="6" height="1"/><rect x="431" y="153" width="6" height="1"/><rect x="441" y="153" width="6" height="1"/><rect x="451" y="153" width="6" height="1"/><rect x="461" y="153" width="6" height="1"/><rect x="471" y="153" width="6" height="1"/><rect x="481" y="153" width="6" height="1"/><rect x="491" y="153" width="6" height="1"/><rect x="501" y="153" width="6" height="1"/><rect x="511" y="153" width="6" height="1"/><rect x="521" y="153" width="6" height="1"/><rect x="531" y="153" width="6" height="1"/><rect x="541" y="153" width="6" height="1"/><rect x="551" y="153" width="6" height="1"/><rect x="561" y="153" width="6" height="1"/><rect x="571" y="153" width="6" height="1"/><rect x="581" y="153" width="6" height="1"/></g>
<line x1="364" y1="283.5" x2="492" y2="88" stroke="#0000ff" stroke-width="1" shape-rendering="crispEdges"/>
<rect x="586" y="87" width="1" height="324" fill="#000"/>
<rect x="586" y="169" width="1" height="1" fill="#0000ff"/>
<rect x="586" y="191" width="1" height="1" fill="#0000ff"/>
<rect x="586" y="213" width="1" height="1" fill="#0000ff"/>
<rect x="587" y="112" width="4" height="1" fill="#ff0000"/>
<text x="592.5" y="116.2" font-size="11" font-weight="normal" fill="#000" text-anchor="start" textLength="46.7" lengthAdjust="spacingAndGlyphs" >1 200,00</text>
<rect x="587" y="137" width="4" height="1" fill="#ff0000"/>
<text x="592.5" y="141.2" font-size="11" font-weight="normal" fill="#000" text-anchor="start" textLength="46.7" lengthAdjust="spacingAndGlyphs" >1 150,00</text>
<rect x="587" y="163" width="4" height="1" fill="#ff0000"/>
<text x="592.5" y="167.2" font-size="11" font-weight="normal" fill="#000" text-anchor="start" textLength="46.7" lengthAdjust="spacingAndGlyphs" >1 100,00</text>
<rect x="587" y="189" width="4" height="1" fill="#ff0000"/>
<text x="592.5" y="193.2" font-size="11" font-weight="normal" fill="#000" text-anchor="start" textLength="46.7" lengthAdjust="spacingAndGlyphs" >1 050,00</text>
<rect x="587" y="214" width="4" height="1" fill="#ff0000"/>
<text x="592.5" y="218.2" font-size="11" font-weight="normal" fill="#000" text-anchor="start" textLength="46.7" lengthAdjust="spacingAndGlyphs" >1 000,00</text>
<rect x="587" y="240" width="4" height="1" fill="#ff0000"/>
<text x="592.5" y="244.2" font-size="11" font-weight="normal" fill="#000" text-anchor="start" textLength="37" lengthAdjust="spacingAndGlyphs" >950,00</text>
<rect x="587" y="266" width="4" height="1" fill="#ff0000"/>
<text x="592.5" y="270.2" font-size="11" font-weight="normal" fill="#000" text-anchor="start" textLength="37" lengthAdjust="spacingAndGlyphs" >900,00</text>
<rect x="587" y="291" width="4" height="1" fill="#ff0000"/>
<text x="592.5" y="295.2" font-size="11" font-weight="normal" fill="#000" text-anchor="start" textLength="37" lengthAdjust="spacingAndGlyphs" >850,00</text>
<rect x="587" y="317" width="4" height="1" fill="#ff0000"/>
<text x="592.5" y="321.2" font-size="11" font-weight="normal" fill="#000" text-anchor="start" textLength="37" lengthAdjust="spacingAndGlyphs" >800,00</text>
<rect x="587" y="343" width="4" height="1" fill="#ff0000"/>
<text x="592.5" y="347.2" font-size="11" font-weight="normal" fill="#000" text-anchor="start" textLength="37" lengthAdjust="spacingAndGlyphs" >750,00</text>
<rect x="587" y="368" width="4" height="1" fill="#ff0000"/>
<text x="592.5" y="372.2" font-size="11" font-weight="normal" fill="#000" text-anchor="start" textLength="37" lengthAdjust="spacingAndGlyphs" >700,00</text>
<rect x="587" y="394" width="4" height="1" fill="#ff0000"/>
<text x="592.5" y="398.2" font-size="11" font-weight="normal" fill="#000" text-anchor="start" textLength="37" lengthAdjust="spacingAndGlyphs" >650,00</text>
<rect x="589.5" y="148.5" width="53" height="10" fill="#fff" stroke="#ff0000" stroke-width="1"/>
<text x="592.5" y="157" font-size="11" font-weight="normal" fill="#0000ff" text-anchor="start" textLength="47" lengthAdjust="spacingAndGlyphs" >1 118,70</text>
<rect x="17" y="411" width="1" height="2" fill="#ff0000"/>
<text x="17.5" y="424" font-size="11.3" font-weight="normal" fill="#000" text-anchor="middle" textLength="12.5" lengthAdjust="spacingAndGlyphs" >07</text>
<rect x="66" y="411" width="1" height="2" fill="#ff0000"/>
<text x="66.5" y="424" font-size="11.3" font-weight="normal" fill="#000" text-anchor="middle" textLength="12.5" lengthAdjust="spacingAndGlyphs" >10</text>
<rect x="115" y="411" width="1" height="2" fill="#ff0000"/>
<text x="115.5" y="424" font-size="11.3" font-weight="normal" fill="#000" text-anchor="middle" textLength="12.5" lengthAdjust="spacingAndGlyphs" >01</text>
<rect x="163" y="411" width="1" height="2" fill="#ff0000"/>
<text x="163.5" y="424" font-size="11.3" font-weight="normal" fill="#000" text-anchor="middle" textLength="12.5" lengthAdjust="spacingAndGlyphs" >04</text>
<rect x="211" y="411" width="1" height="2" fill="#ff0000"/>
<text x="211.5" y="424" font-size="11.3" font-weight="normal" fill="#000" text-anchor="middle" textLength="12.5" lengthAdjust="spacingAndGlyphs" >07</text>
<rect x="260" y="411" width="1" height="2" fill="#ff0000"/>
<text x="260.5" y="424" font-size="11.3" font-weight="normal" fill="#000" text-anchor="middle" textLength="12.5" lengthAdjust="spacingAndGlyphs" >10</text>
<rect x="308" y="411" width="1" height="2" fill="#ff0000"/>
<text x="308.5" y="424" font-size="11.3" font-weight="normal" fill="#000" text-anchor="middle" textLength="12.5" lengthAdjust="spacingAndGlyphs" >01</text>
<rect x="356" y="411" width="1" height="2" fill="#ff0000"/>
<text x="356.5" y="424" font-size="11.3" font-weight="normal" fill="#000" text-anchor="middle" textLength="12.5" lengthAdjust="spacingAndGlyphs" >04</text>
<rect x="405" y="411" width="1" height="2" fill="#ff0000"/>
<text x="405.5" y="424" font-size="11.3" font-weight="normal" fill="#000" text-anchor="middle" textLength="12.5" lengthAdjust="spacingAndGlyphs" >07</text>
<rect x="452" y="411" width="1" height="2" fill="#ff0000"/>
<text x="452.5" y="424" font-size="11.3" font-weight="normal" fill="#000" text-anchor="middle" textLength="12.5" lengthAdjust="spacingAndGlyphs" >10</text>
<rect x="501" y="411" width="1" height="2" fill="#ff0000"/>
<text x="501.5" y="424" font-size="11.3" font-weight="normal" fill="#000" text-anchor="middle" textLength="12.5" lengthAdjust="spacingAndGlyphs" >01</text>
<rect x="549" y="411" width="1" height="2" fill="#ff0000"/>
<text x="549.5" y="424" font-size="11.3" font-weight="normal" fill="#000" text-anchor="middle" textLength="12.5" lengthAdjust="spacingAndGlyphs" >04</text>
<text x="115.5" y="438" font-size="11.3" font-weight="normal" fill="#000" text-anchor="middle" textLength="27" lengthAdjust="spacingAndGlyphs" >2008</text>
<text x="308.5" y="438" font-size="11.3" font-weight="normal" fill="#000" text-anchor="middle" textLength="27" lengthAdjust="spacingAndGlyphs" >2009</text>
<text x="501.5" y="438" font-size="11.3" font-weight="normal" fill="#000" text-anchor="middle" textLength="27" lengthAdjust="spacingAndGlyphs" >2010</text>
<rect x="29" y="450" width="150" height="21" fill="#ffffff"/>
<circle cx="18.6" cy="458" r="4.2" fill="#f6f6f8" stroke="#6a6a6a" stroke-width="0.9"/>
<path d="M10,466.8 L15.5,461.5" stroke="#333" stroke-width="1.5"/>
<ellipse cx="16" cy="467.5" rx="6" ry="0.8" fill="#c8c8c8"/>
<text x="29.5" y="465" font-size="12.5" font-weight="bold" fill="#c0c0c0" text-anchor="start" textLength="140.5" lengthAdjust="spacingAndGlyphs" >Type instrument name</text>
<text x="408.4" y="464.8" font-size="12" font-weight="bold" fill="#333" text-anchor="start" textLength="202.6" lengthAdjust="spacingAndGlyphs" xml:space="preserve">15 févr. 2010 01:00:00  CET (+0100)</text>
<circle cx="629.5" cy="459.5" r="7" fill="url(#gGreen)" stroke="#1f6e3e" stroke-width="0.6"/>
<rect x="0" y="471" width="645" height="2" fill="#efefef"/>
<rect x="0" y="473" width="645" height="2" fill="#c6c6c6"/>
<rect x="0" y="7" width="1" height="466" fill="#c6c6c6"/><rect x="1" y="23" width="1" height="450" fill="#dedede"/>
<path d="M0.5,8 Q0.5,0.5 8,0.5" fill="none" stroke="#c4c4c4" stroke-width="1"/>
<path d="M644.5,4 Q644.5,0.5 641,0.5" fill="none" stroke="#9a9a9a" stroke-width="1"/></svg></body></html>
